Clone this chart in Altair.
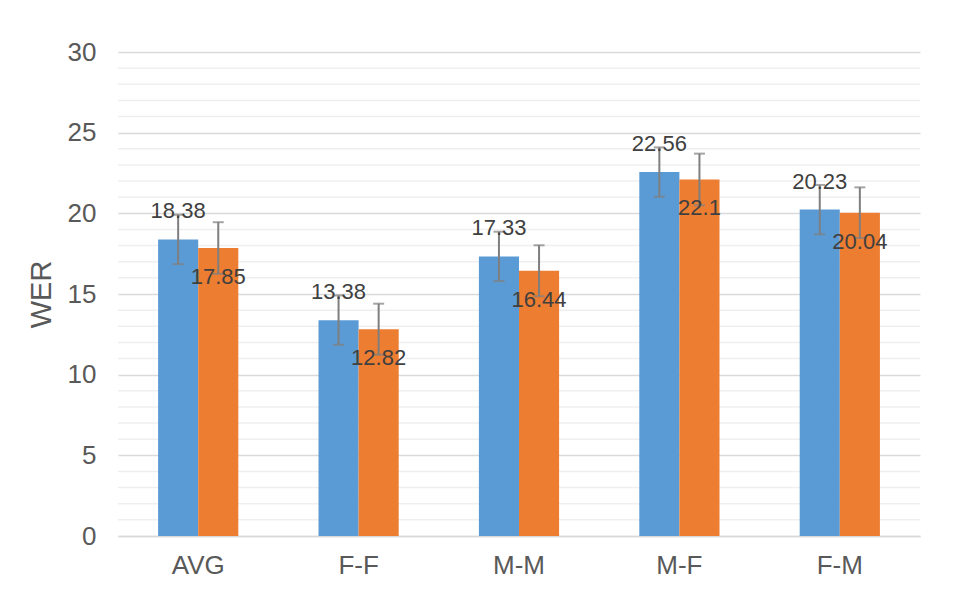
import altair as alt
import pandas as pd

categories = ["AVG", "F-F", "M-M", "M-F", "F-M"]
series = ["A", "B"]
blue_values = [18.38, 13.38, 17.33, 22.56, 20.23]
orange_values = [17.85, 12.82, 16.44, 22.1, 20.04]
blue_err = [1.53, 1.53, 1.53, 1.53, 1.53]
orange_err = [1.6, 1.58, 1.58, 1.6, 1.57]
y_ticks = [0, 5, 10, 15, 20, 25, 30]
minor_ticks = [v for v in range(1, 30) if v % 5 != 0]

rows = []
for i, c in enumerate(categories):
    rows.append(dict(cat=c, series="A", value=blue_values[i],
                     lo=blue_values[i] - blue_err[i], hi=blue_values[i] + blue_err[i],
                     label=str(blue_values[i])))
    rows.append(dict(cat=c, series="B", value=orange_values[i],
                     lo=orange_values[i] - orange_err[i], hi=orange_values[i] + orange_err[i],
                     label=str(orange_values[i])))
df = pd.DataFrame(rows)
df_minor = pd.DataFrame({"value": minor_ticks})

FONT = "Liberation Sans"
yscale = alt.Scale(domain=[0, 30], nice=False, zero=True)
yaxis = alt.Axis(values=y_ticks, grid=True, gridColor="#d9d9d9", gridWidth=1.5,
                 domain=False, ticks=False, labelFontSize=26, labelColor="#595959",
                 labelFont=FONT, labelPadding=22, title="WER", titleFontSize=29,
                 titleColor="#595959", titleFont=FONT, titleFontWeight="normal",
                 titleAngle=270, titleX=-77, titleY=242, titleBaseline="middle")


def Y(field):
    return alt.Y(field, type="quantitative", scale=yscale, axis=yaxis, title="WER")


X = alt.X("cat:N", sort=categories,
          scale=alt.Scale(paddingInner=0.5, paddingOuter=0.25),
          axis=alt.Axis(title=None, labelAngle=0, labelFontSize=26, labelColor="#595959",
                        labelFont=FONT, labelPadding=16, ticks=False, grid=False,
                        domainColor="#d9d9d9", domainWidth=1.5))
XO = alt.XOffset("series:N", sort=series)

minor = alt.Chart(df_minor).mark_rule(color="#efefef", strokeWidth=1.5).encode(y=Y("value"))

base = alt.Chart(df)

bars = base.mark_bar().encode(
    x=X, xOffset=XO, y=Y("value"),
    color=alt.Color("series:N", scale=alt.Scale(domain=series, range=["#5B9BD5", "#ED7D31"]),
                    legend=None),
)

err = base.mark_rule(color="#7f7f7f", strokeWidth=2).encode(
    x=X, xOffset=XO, y=Y("lo"), y2="hi")
cap_lo = base.mark_tick(color="#7f7f7f", size=11, thickness=2).encode(x=X, xOffset=XO, y=Y("lo"))
cap_hi = base.mark_tick(color="#7f7f7f", size=11, thickness=2).encode(x=X, xOffset=XO, y=Y("hi"))

txt_a = base.transform_filter(alt.datum.series == "A").mark_text(
    dy=-28, fontSize=22, font=FONT, color="#404040", baseline="middle").encode(
    x=X, xOffset=XO, y=Y("value"), text="label:N")
txt_b = base.transform_filter(alt.datum.series == "B").mark_text(
    dy=29, fontSize=22, font=FONT, color="#404040", baseline="middle").encode(
    x=X, xOffset=XO, y=Y("value"), text="label:N")

chart = alt.layer(minor, bars, err, cap_lo, cap_hi, txt_a, txt_b).properties(
    width=802, height=484,
    background="white",
    autosize=alt.AutoSizeParams(type="none"),
    padding={"left": 110, "top": 44, "right": 42, "bottom": 66},
).configure_view(stroke=None, strokeWidth=0)

chart.save("out.html", embed_options={"renderer": "svg", "actions": False})
